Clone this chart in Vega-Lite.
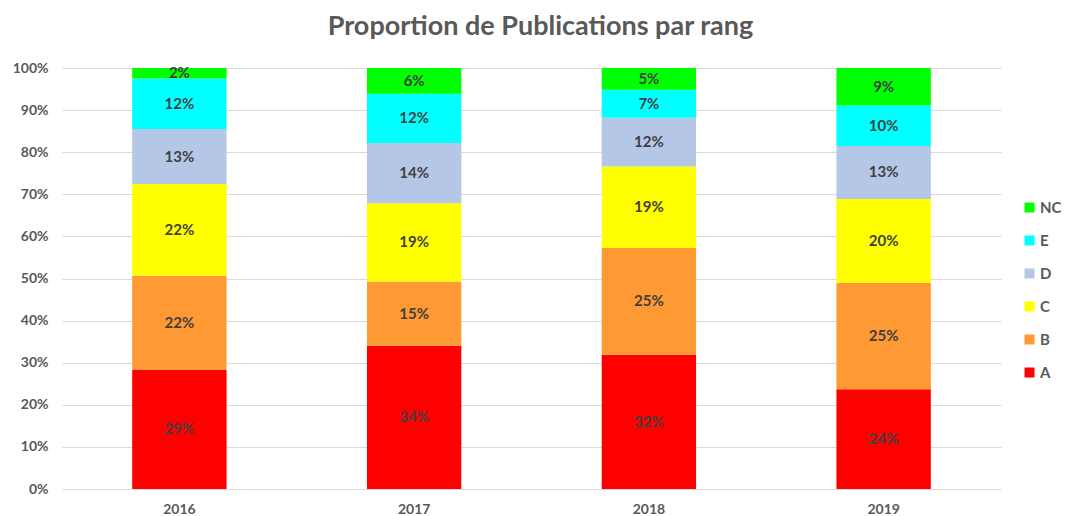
{
  "$schema": "https://vega.github.io/schema/vega-lite/v6.json",
  "autosize": "none",
  "width": 939,
  "height": 421,
  "padding": {"left": 62, "top": 68, "right": 64, "bottom": 27},
  "background": "white",
  "title": {
    "text": "Proportion de Publications par rang",
    "font": "Lato",
    "fontSize": 27,
    "fontWeight": "bold",
    "color": "#595959",
    "anchor": "middle",
    "dx": 9,
    "offset": 20
  },
  "config": {
    "view": {"stroke": null},
    "font": "Lato",
    "axisY": {
      "title": null,
      "format": ".0%",
      "values": [0, 0.1, 0.2, 0.3, 0.4, 0.5, 0.6, 0.7, 0.8, 0.9, 1],
      "labelOverlap": false,
      "labelFont": "Lato",
      "labelFontSize": 14,
      "labelFontWeight": "bold",
      "labelColor": "#595959",
      "labelPadding": 14,
      "ticks": false,
      "domain": false,
      "gridColor": "#d9d9d9",
      "gridWidth": 1
    }
  },
  "data": {
    "values": [
      {"year": "2016", "rang": "A", "value": 28.3, "label": "29%"},
      {"year": "2016", "rang": "B", "value": 22.4, "label": "22%"},
      {"year": "2016", "rang": "C", "value": 21.8, "label": "22%"},
      {"year": "2016", "rang": "D", "value": 13.1, "label": "13%"},
      {"year": "2016", "rang": "E", "value": 12.0, "label": "12%"},
      {"year": "2016", "rang": "NC", "value": 2.5, "label": "2%"},
      {"year": "2017", "rang": "A", "value": 34.0, "label": "34%"},
      {"year": "2017", "rang": "B", "value": 15.3, "label": "15%"},
      {"year": "2017", "rang": "C", "value": 18.6, "label": "19%"},
      {"year": "2017", "rang": "D", "value": 14.3, "label": "14%"},
      {"year": "2017", "rang": "E", "value": 11.7, "label": "12%"},
      {"year": "2017", "rang": "NC", "value": 6.1, "label": "6%"},
      {"year": "2018", "rang": "A", "value": 31.9, "label": "32%"},
      {"year": "2018", "rang": "B", "value": 25.4, "label": "25%"},
      {"year": "2018", "rang": "C", "value": 19.4, "label": "19%"},
      {"year": "2018", "rang": "D", "value": 11.6, "label": "12%"},
      {"year": "2018", "rang": "E", "value": 6.6, "label": "7%"},
      {"year": "2018", "rang": "NC", "value": 5.2, "label": "5%"},
      {"year": "2019", "rang": "A", "value": 23.7, "label": "24%"},
      {"year": "2019", "rang": "B", "value": 25.3, "label": "25%"},
      {"year": "2019", "rang": "C", "value": 19.9, "label": "20%"},
      {"year": "2019", "rang": "D", "value": 12.6, "label": "13%"},
      {"year": "2019", "rang": "E", "value": 9.6, "label": "10%"},
      {"year": "2019", "rang": "NC", "value": 8.9, "label": "9%"}
    ]
  },
  "encoding": {
    "x": {
      "field": "year",
      "type": "nominal",
      "scale": {"paddingInner": 0.598, "paddingOuter": 0.299},
      "axis": {
        "title": null,
        "labelAngle": 0,
        "labelFont": "Lato",
        "labelFontSize": 14,
        "labelFontWeight": "bold",
        "labelColor": "#595959",
        "labelPadding": 13,
        "ticks": false,
        "domainColor": "#d9d9d9",
        "domainWidth": 1,
        "grid": false
      }
    },
    "order": {"field": "rang", "sort": "ascending"}
  },
  "layer": [
    {
      "mark": {"type": "bar"},
      "encoding": {
        "y": {
          "field": "value",
          "type": "quantitative",
          "stack": "normalize",
          "scale": {"domain": [0, 1]}
        },
        "color": {
          "field": "rang",
          "type": "nominal",
          "scale": {
            "domain": ["NC", "E", "D", "C", "B", "A"],
            "range": ["#00ff00", "#00ffff", "#b4c7e7", "#ffff00", "#ff9933", "#ff0000"]
          },
          "legend": {
            "title": null,
            "orient": "none",
            "legendX": 960,
            "legendY": 132,
            "padding": 0,
            "symbolType": "square",
            "symbolSize": 100,
            "symbolStrokeWidth": 0,
            "labelFont": "Lato",
            "labelFontSize": 15,
            "labelFontWeight": "bold",
            "labelColor": "#595959",
            "labelOffset": 3,
            "rowPadding": 17
          }
        }
      }
    },
    {
      "mark": {
        "type": "text",
        "font": "Lato",
        "fontSize": 15,
        "fontWeight": "bold",
        "color": "#404040",
        "baseline": "middle"
      },
      "encoding": {
        "y": {"field": "value", "type": "quantitative", "stack": "normalize", "bandPosition": 0.5},
        "text": {"field": "label", "type": "nominal"}
      }
    }
  ]
}
